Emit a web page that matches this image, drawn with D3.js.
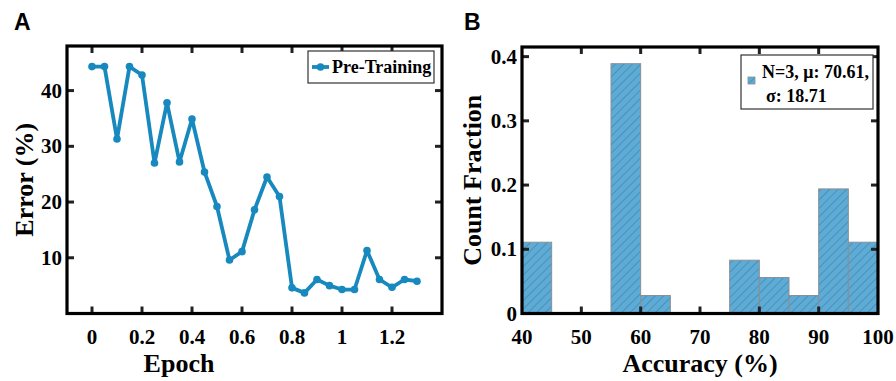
<!DOCTYPE html>
<html>
<head>
<meta charset="utf-8">
<script src="https://cdn.jsdelivr.net/npm/d3@7"></script>
<style>
  body { margin: 0; background: #fff; }
  svg { display: block; }
</style>
</head>
<body>
<svg id="chart" width="896" height="381"></svg>
<script>
// panel A data: error vs epoch
const epochs = [0, 0.05, 0.1, 0.15, 0.2, 0.25, 0.3, 0.35, 0.4, 0.45, 0.5, 0.55, 0.6, 0.65,
  0.7, 0.75, 0.8, 0.85, 0.9, 0.95, 1.0, 1.05, 1.1, 1.15, 1.2, 1.25, 1.3];
const errors = [44.3, 44.3, 31.3, 44.3, 42.8, 27.0, 37.8, 27.2, 34.9, 25.4, 19.2, 9.6, 11.1, 18.6,
  24.5, 21.0, 4.6, 3.7, 6.1, 5.0, 4.3, 4.3, 11.3, 6.1, 4.7, 6.1, 5.8];
const epochTicks = [0, 0.2, 0.4, 0.6, 0.8, 1, 1.2];
const errorTicks = [10, 20, 30, 40];

// panel B data: histogram of accuracy
const binStarts = [40, 55, 60, 75, 80, 85, 90, 95];
const fractions = [0.111, 0.389, 0.028, 0.083, 0.056, 0.028, 0.194, 0.111];
const accTicks = [40, 50, 60, 70, 80, 90, 100];
const fracTicks = [0, 0.1, 0.2, 0.3, 0.4];

const serif = '"Liberation Serif", "Times New Roman", serif';
const sans = '"Liberation Sans", Arial, sans-serif';
const lineColor = '#1789be';
const tickFont = 'bold 21px ' + serif;

const svg = d3.select('#chart');

// hatch pattern for bars
const defs = svg.append('defs');
const pat = defs.append('pattern')
    .attr('id', 'hatch')
    .attr('patternUnits', 'userSpaceOnUse')
    .attr('width', 6).attr('height', 6)
    .attr('patternTransform', 'rotate(45)');
pat.append('rect').attr('width', 6).attr('height', 6).attr('fill', '#5eabd5');
pat.append('line')
    .attr('x1', 0).attr('y1', 0).attr('x2', 0).attr('y2', 6)
    .attr('stroke', '#3b7fa8').attr('stroke-width', 1.2);

// draws the box, inward ticks on all four sides and tick labels
function frame(g, x, y, xt, yt, xfmt, yfmt) {
  const [x0, x1] = x.range();
  const [y0, y1] = y.range();
  const tl = 7;
  xt.forEach(function(t) {
    g.append('line').attr('x1', x(t)).attr('x2', x(t)).attr('y1', y0).attr('y2', y0 - tl)
        .attr('stroke', '#222').attr('stroke-width', 3);
    g.append('line').attr('x1', x(t)).attr('x2', x(t)).attr('y1', y1).attr('y2', y1 + tl)
        .attr('stroke', '#222').attr('stroke-width', 3);
    g.append('text').attr('x', x(t)).attr('y', y0 + 30)
        .attr('text-anchor', 'middle')
        .style('font', tickFont)
        .text(xfmt(t));
  });
  yt.forEach(function(t) {
    g.append('line').attr('x1', x0).attr('x2', x0 + tl).attr('y1', y(t)).attr('y2', y(t))
        .attr('stroke', '#222').attr('stroke-width', 3);
    g.append('line').attr('x1', x1).attr('x2', x1 - tl).attr('y1', y(t)).attr('y2', y(t))
        .attr('stroke', '#222').attr('stroke-width', 3);
    g.append('text').attr('x', x0 - 5).attr('y', y(t) + 7)
        .attr('text-anchor', 'end')
        .style('font', tickFont)
        .text(yfmt(t));
  });
  g.append('rect')
      .attr('x', x0).attr('y', y1)
      .attr('width', x1 - x0).attr('height', y0 - y1)
      .attr('fill', 'none').attr('stroke', '#000').attr('stroke-width', 3.2);
}

// ---------- Panel A ----------
const xA = d3.scaleLinear().domain([-0.1, 1.4]).range([67, 442]);
const yA = d3.scaleLinear().domain([0, 48]).range([313.5, 46]);
const gA = svg.append('g');

const pts = epochs.map((e, i) => [e, errors[i]]);
gA.append('path')
    .datum(pts)
    .attr('fill', 'none')
    .attr('stroke', lineColor)
    .attr('stroke-width', 3.8)
    .attr('stroke-linejoin', 'round')
    .attr('d', d3.line().x(d => xA(d[0])).y(d => yA(d[1])));
gA.selectAll('circle.pt')
    .data(pts)
    .enter().append('circle')
    .attr('class', 'pt')
    .attr('cx', d => xA(d[0]))
    .attr('cy', d => yA(d[1]))
    .attr('r', 3.8)
    .attr('fill', lineColor);

frame(gA, xA, yA, epochTicks, errorTicks, d => d3.format('~g')(d), d => d);

// legend A
gA.append('rect').attr('x', 308).attr('y', 51).attr('width', 126).attr('height', 32)
    .attr('fill', '#fff').attr('stroke', '#333').attr('stroke-width', 1.2);
gA.append('line').attr('x1', 312).attr('x2', 329).attr('y1', 67).attr('y2', 67)
    .attr('stroke', lineColor).attr('stroke-width', 3.8);
gA.append('circle').attr('cx', 320.5).attr('cy', 67).attr('r', 3.8).attr('fill', lineColor);
gA.append('text').attr('x', 332).attr('y', 73)
    .style('font', 'bold 18px ' + serif).text('Pre-Training');

gA.append('text').attr('x', 179).attr('y', 372).attr('text-anchor', 'middle')
    .style('font', 'bold 26px ' + serif).text('Epoch');
gA.append('text')
    .attr('transform', 'translate(33,' + ((46 + 313.5) / 2) + ') rotate(-90)')
    .attr('text-anchor', 'middle')
    .style('font', 'bold 26px ' + serif).text('Error (%)');
svg.append('text').attr('x', 14).attr('y', 30)
    .style('font', 'bold 23px ' + sans).text('A');

// ---------- Panel B ----------
const xB = d3.scaleLinear().domain([40, 100]).range([522, 878]);
const yB = d3.scaleLinear().domain([0, 0.415]).range([313.5, 47]);
const gB = svg.append('g');

gB.selectAll('rect.bar')
    .data(binStarts.map((b, i) => ({start: b, frac: fractions[i]})))
    .enter().append('rect')
    .attr('class', 'bar')
    .attr('x', d => xB(d.start))
    .attr('y', d => yB(d.frac))
    .attr('width', d => xB(d.start + 5) - xB(d.start))
    .attr('height', d => yB(0) - yB(d.frac))
    .attr('fill', 'url(#hatch)')
    .attr('stroke', '#8a8f94')
    .attr('stroke-width', 1);

frame(gB, xB, yB, accTicks.slice(1, -1), fracTicks.slice(1), d => d, d => d);
// edge tick labels and the 0 label
[40, 100].forEach(function(t) {
  gB.append('text').attr('x', xB(t)).attr('y', 313.5 + 30)
      .attr('text-anchor', 'middle')
      .style('font', tickFont).text(t);
});
gB.append('text').attr('x', 517).attr('y', yB(0) + 7).attr('text-anchor', 'end')
    .style('font', tickFont).text('0');

// legend B
gB.append('rect').attr('x', 741).attr('y', 55).attr('width', 132).attr('height', 54)
    .attr('fill', '#fff').attr('stroke', '#333').attr('stroke-width', 1.2);
gB.append('rect').attr('x', 748).attr('y', 77).attr('width', 7).attr('height', 7)
    .attr('fill', 'url(#hatch)').attr('stroke', '#8a8f94').attr('stroke-width', 0.8);
gB.append('text').attr('x', 762).attr('y', 78)
    .style('font', 'bold 18px ' + serif).text('N=3, \u03bc: 70.61,');
gB.append('text').attr('x', 766).attr('y', 102)
    .style('font', 'bold 18px ' + serif).text('\u03c3: 18.71');

gB.append('text').attr('x', 700).attr('y', 372).attr('text-anchor', 'middle')
    .style('font', 'bold 26px ' + serif).text('Accuracy (%)');
gB.append('text')
    .attr('transform', 'translate(481,' + ((47 + 313.5) / 2) + ') rotate(-90)')
    .attr('text-anchor', 'middle')
    .style('font', 'bold 26px ' + serif).text('Count Fraction');
svg.append('text').attr('x', 464).attr('y', 30)
    .style('font', 'bold 23px ' + sans).text('B');
</script>
</body>
</html>
